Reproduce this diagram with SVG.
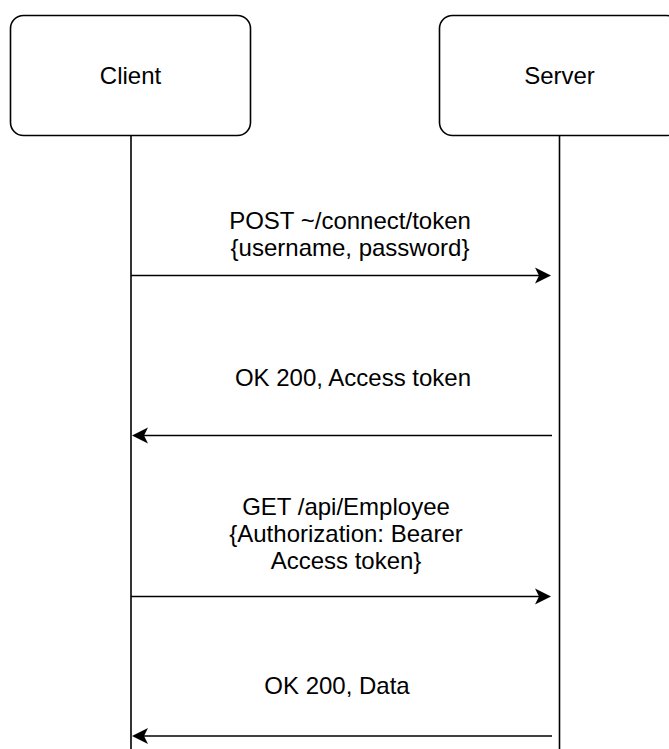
<svg xmlns="http://www.w3.org/2000/svg" width="669" height="749" viewBox="0 0 669 749">
  <style>
    .box { fill: #ffffff; stroke: #000000; stroke-width: 1.6; }
    .life { stroke: #000000; stroke-width: 1.6; fill: none; }
    .msg { stroke: #000000; stroke-width: 1.6; fill: none; }
    text { font-family: "Liberation Sans", Arial, Helvetica, sans-serif; font-size: 24px; fill: #000000; text-anchor: middle; }
  </style>
  <defs>
    <marker id="head" markerUnits="userSpaceOnUse" markerWidth="16" markerHeight="16" refX="4" refY="8" orient="auto" overflow="visible">
      <path d="M0,0 L16,8 L0,16 L4,8 Z" fill="#000000" stroke="none"/>
    </marker>
  </defs>
  <rect width="669" height="749" fill="#ffffff"/>

  <!-- participants -->
  <g id="client">
    <rect class="box" x="10.5" y="15.5" width="240" height="120" rx="13" ry="13"/>
    <text x="130.5" y="84">Client</text>
  </g>
  <g id="server">
    <rect class="box" x="439.5" y="15.5" width="240" height="120" rx="13" ry="13"/>
    <text x="559.5" y="84">Server</text>
  </g>

  <!-- lifelines and messages -->
  <g id="connectors">
    <line class="life" x1="131" y1="135.5" x2="131" y2="749"/>
    <line class="life" x1="559.5" y1="135.5" x2="559.5" y2="749"/>

    <line class="msg" x1="131" y1="275.5" x2="539" y2="275.5" marker-end="url(#head)"/>
    <line class="msg" x1="552" y1="435.5" x2="144" y2="435.5" marker-end="url(#head)"/>
    <line class="msg" x1="131" y1="596.5" x2="539" y2="596.5" marker-end="url(#head)"/>
    <line class="msg" x1="552" y1="736" x2="144" y2="736" marker-end="url(#head)"/>
  </g>

  <!-- message labels -->
  <g id="label-login">
    <text x="350" y="229">POST ~/connect/token</text>
    <text x="350" y="256">{username, password}</text>
  </g>
  <g id="label-token">
    <text x="353" y="386">OK 200, Access token</text>
  </g>
  <g id="label-request">
    <text x="346" y="515">GET /api/Employee</text>
    <text x="346" y="542">{Authorization: Bearer</text>
    <text x="346" y="569">Access token}</text>
  </g>
  <g id="label-data">
    <text x="337" y="694">OK 200, Data</text>
  </g>
</svg>
